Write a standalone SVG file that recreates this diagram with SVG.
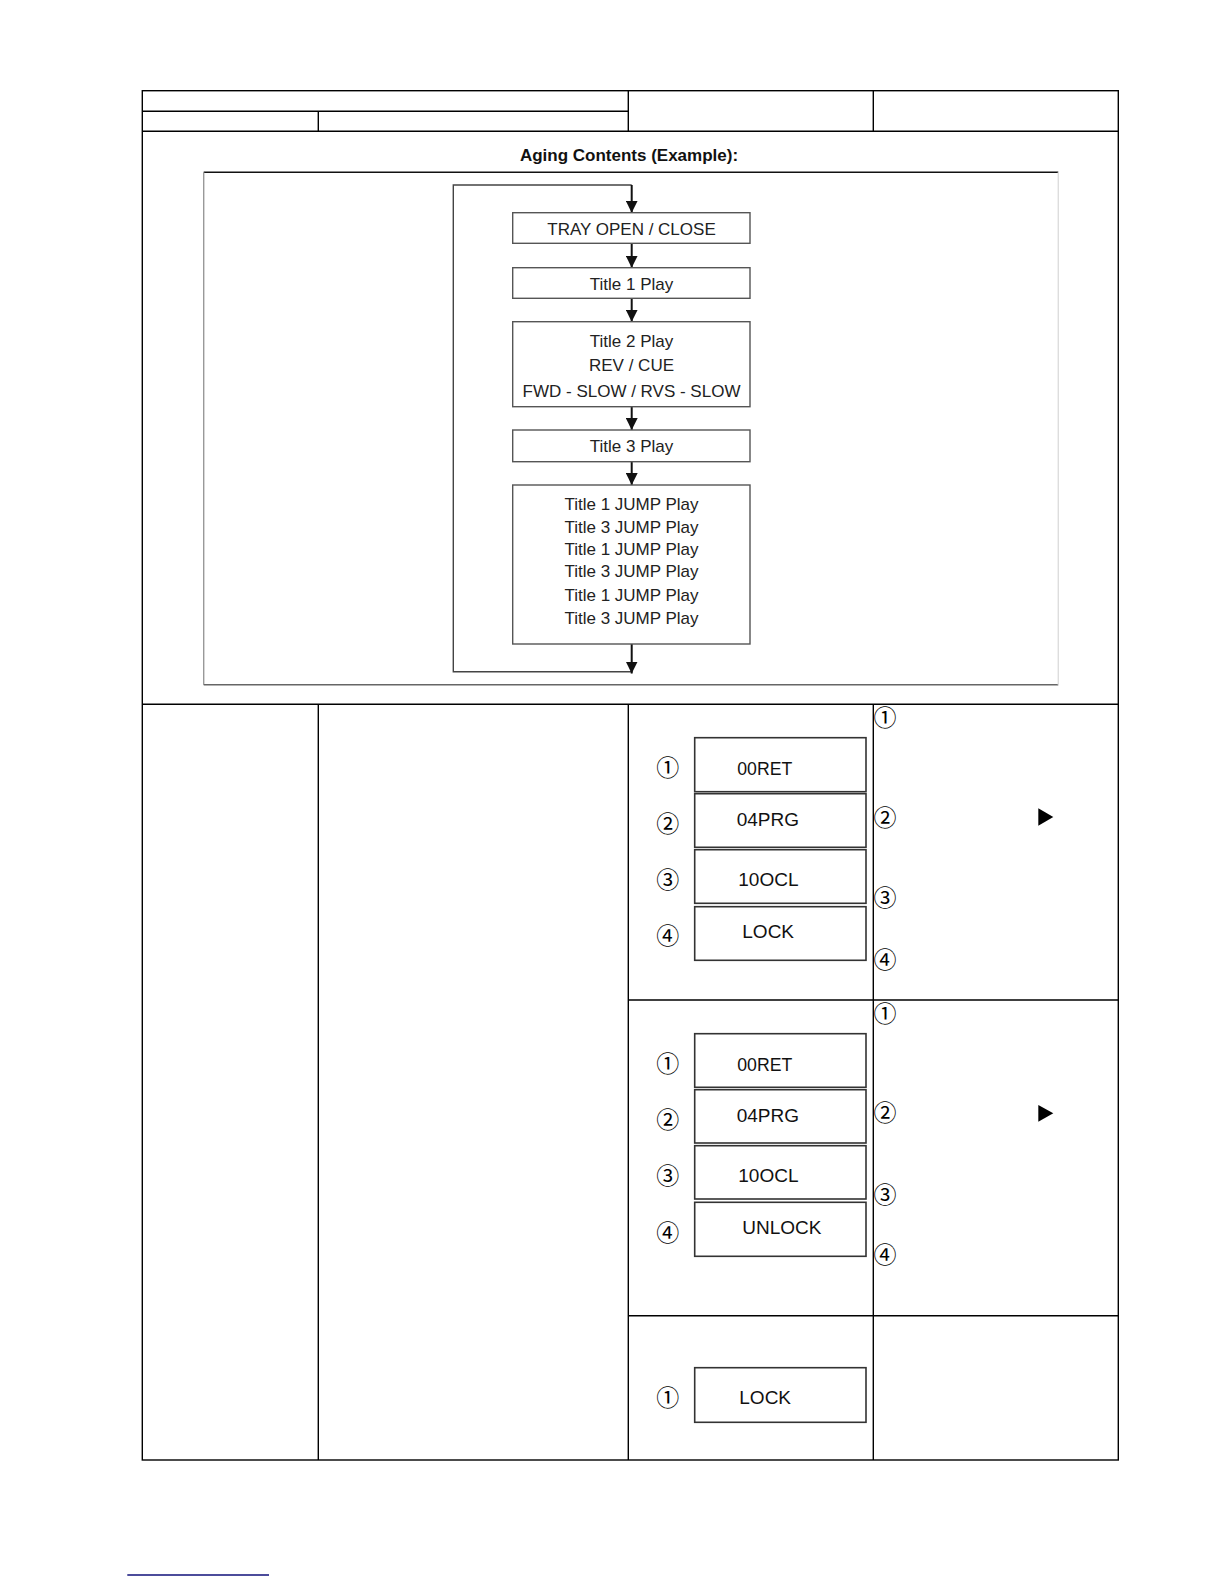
<svg xmlns="http://www.w3.org/2000/svg" width="1224" height="1584" viewBox="0 0 1224 1584">
<style>
.tbl{stroke:#000;stroke-width:1.4;fill:none}
.fbox{fill:#fff;stroke:#555;stroke-width:1.4}
.ft{font-family:"Liberation Sans",Arial,sans-serif;font-size:17px;fill:#222;text-anchor:middle}
.dbox{fill:#fff;stroke:#333;stroke-width:1.6}
.dt{font-family:"Liberation Sans",Arial,sans-serif;font-size:19px;fill:#111}
.cn{font-family:"Noto Sans CJK JP","DejaVu Sans",sans-serif;font-size:23px;fill:#000;text-anchor:middle}
.conn{stroke:#111;stroke-width:2;fill:none}
.loop{stroke:#444;stroke-width:1.4;fill:none}
</style>
<defs>
<marker id="ah" viewBox="0 0 12 12" refX="12" refY="6" markerWidth="12" markerHeight="12" markerUnits="userSpaceOnUse" orient="auto">
<path d="M0,0 L12,6 L0,12 Z" fill="#111"/>
</marker>
</defs>
<rect width="1224" height="1584" fill="#fff"/>

<g id="table">
<rect class="tbl" x="142.3" y="90.7" width="976" height="1369.3"/>
<line class="tbl" x1="142.3" y1="111.3" x2="628.3" y2="111.3"/>
<line class="tbl" x1="142.3" y1="131.3" x2="1118.3" y2="131.3"/>
<line class="tbl" x1="318.3" y1="111.3" x2="318.3" y2="131.3"/>
<line class="tbl" x1="628.3" y1="90.7" x2="628.3" y2="131.3"/>
<line class="tbl" x1="873.3" y1="90.7" x2="873.3" y2="131.3"/>
<line class="tbl" x1="142.3" y1="704.3" x2="1118.3" y2="704.3"/>
<line class="tbl" x1="318.3" y1="704.3" x2="318.3" y2="1460"/>
<line class="tbl" x1="628.3" y1="704.3" x2="628.3" y2="1460"/>
<line class="tbl" x1="873.3" y1="704.3" x2="873.3" y2="1460"/>
<line class="tbl" x1="628.3" y1="1000" x2="1118.3" y2="1000"/>
<line class="tbl" x1="628.3" y1="1315.7" x2="1118.3" y2="1315.7"/>
</g>

<text id="title" x="629" y="161" font-family="Liberation Sans,Arial,sans-serif" font-size="17" font-weight="bold" text-anchor="middle" fill="#111">Aging Contents (Example):</text>

<g id="frame">
<line x1="203.7" y1="172.3" x2="1058.3" y2="172.3" stroke="#111" stroke-width="1.4"/>
<line x1="203.7" y1="172.3" x2="203.7" y2="684.7" stroke="#999" stroke-width="1.4"/>
<line x1="203.7" y1="684.7" x2="1058.3" y2="684.7" stroke="#666" stroke-width="1.4"/>
<line x1="1058.3" y1="172.3" x2="1058.3" y2="684.7" stroke="#ddd" stroke-width="1.4"/>
</g>

<g id="connectors">
<polyline class="loop" points="631.7,671.7 453.3,671.7 453.3,185 631.7,185"/>
<line class="conn" x1="631.7" y1="185" x2="631.7" y2="212.7" marker-end="url(#ah)"/>
<line class="conn" x1="631.7" y1="243.3" x2="631.7" y2="267.7" marker-end="url(#ah)"/>
<line class="conn" x1="631.7" y1="298.3" x2="631.7" y2="321.7" marker-end="url(#ah)"/>
<line class="conn" x1="631.7" y1="406.7" x2="631.7" y2="430" marker-end="url(#ah)"/>
<line class="conn" x1="631.7" y1="461.7" x2="631.7" y2="485" marker-end="url(#ah)"/>
<line class="conn" x1="631.7" y1="644" x2="631.7" y2="673.5" marker-end="url(#ah)"/>
</g>

<g id="n-tray">
<rect class="fbox" x="512.7" y="212.7" width="237.3" height="30.6"/>
<text class="ft" x="631.5" y="234.5">TRAY OPEN / CLOSE</text>
</g>
<g id="n-title1">
<rect class="fbox" x="512.7" y="267.7" width="237.3" height="30.6"/>
<text class="ft" x="631.5" y="289.5">Title 1 Play</text>
</g>
<g id="n-title2">
<rect class="fbox" x="512.7" y="321.7" width="237.3" height="85"/>
<text class="ft" x="631.5" y="346.5">Title 2 Play</text>
<text class="ft" x="631.5" y="371">REV / CUE</text>
<text class="ft" x="631.5" y="396.5">FWD - SLOW / RVS - SLOW</text>
</g>
<g id="n-title3">
<rect class="fbox" x="512.7" y="430" width="237.3" height="31.7"/>
<text class="ft" x="631.5" y="451.5">Title 3 Play</text>
</g>
<g id="n-jump">
<rect class="fbox" x="512.7" y="485" width="237.3" height="159"/>
<text class="ft" x="631.5" y="510">Title 1 JUMP Play</text>
<text class="ft" x="631.5" y="532.5">Title 3 JUMP Play</text>
<text class="ft" x="631.5" y="554.5">Title 1 JUMP Play</text>
<text class="ft" x="631.5" y="576.5">Title 3 JUMP Play</text>
<text class="ft" x="631.5" y="600.5">Title 1 JUMP Play</text>
<text class="ft" x="631.5" y="624">Title 3 JUMP Play</text>
</g>

<g id="display-lock">
<text class="cn" x="667.7" y="776">①</text>
<text class="cn" x="667.7" y="832">②</text>
<text class="cn" x="667.7" y="887.7">③</text>
<text class="cn" x="667.7" y="944.4">④</text>
<rect class="dbox" x="694.7" y="737.7" width="171.3" height="54"/>
<rect class="dbox" x="694.7" y="793.7" width="171.3" height="53.6"/>
<rect class="dbox" x="694.7" y="849.7" width="171.3" height="53.6"/>
<rect class="dbox" x="694.7" y="906.7" width="171.3" height="53.6"/>
<text class="dt" x="737.3" y="775" textLength="55" lengthAdjust="spacingAndGlyphs">00RET</text>
<text class="dt" x="736.7" y="825.7">04PRG</text>
<text class="dt" x="738.3" y="886">10OCL</text>
<text class="dt" x="742.3" y="938.3">LOCK</text>
</g>
<g id="notes-lock">
<text class="cn" x="885" y="726.4">①</text>
<text class="cn" x="885" y="826">②</text>
<text class="cn" x="885" y="906">③</text>
<text class="cn" x="885" y="967.7">④</text>
<polygon points="1038.3,808.3 1053.3,817 1038.3,825.7" fill="#000"/>
</g>

<g id="display-unlock">
<text class="cn" x="667.7" y="1072">①</text>
<text class="cn" x="667.7" y="1128">②</text>
<text class="cn" x="667.7" y="1184">③</text>
<text class="cn" x="667.7" y="1240.7">④</text>
<rect class="dbox" x="694.7" y="1033.7" width="171.3" height="53.6"/>
<rect class="dbox" x="694.7" y="1089.7" width="171.3" height="53.3"/>
<rect class="dbox" x="694.7" y="1145.7" width="171.3" height="53.3"/>
<rect class="dbox" x="694.7" y="1202.3" width="171.3" height="54"/>
<text class="dt" x="737.3" y="1071" textLength="55" lengthAdjust="spacingAndGlyphs">00RET</text>
<text class="dt" x="736.7" y="1121.7">04PRG</text>
<text class="dt" x="738.3" y="1181.7">10OCL</text>
<text class="dt" x="742.3" y="1233.7">UNLOCK</text>
</g>
<g id="notes-unlock">
<text class="cn" x="885" y="1022">①</text>
<text class="cn" x="885" y="1121.4">②</text>
<text class="cn" x="885" y="1202.7">③</text>
<text class="cn" x="885" y="1263.4">④</text>
<polygon points="1038.3,1105 1053.3,1113.3 1038.3,1121.7" fill="#000"/>
</g>

<g id="display-final">
<text class="cn" x="667.7" y="1406.4">①</text>
<rect class="dbox" x="694.7" y="1367.7" width="171.3" height="54.6"/>
<text class="dt" x="739.3" y="1404.3">LOCK</text>
</g>

<line id="footer-line" x1="127.3" y1="1575" x2="269" y2="1575" stroke="#10107a" stroke-width="1.6"/>
</svg>
